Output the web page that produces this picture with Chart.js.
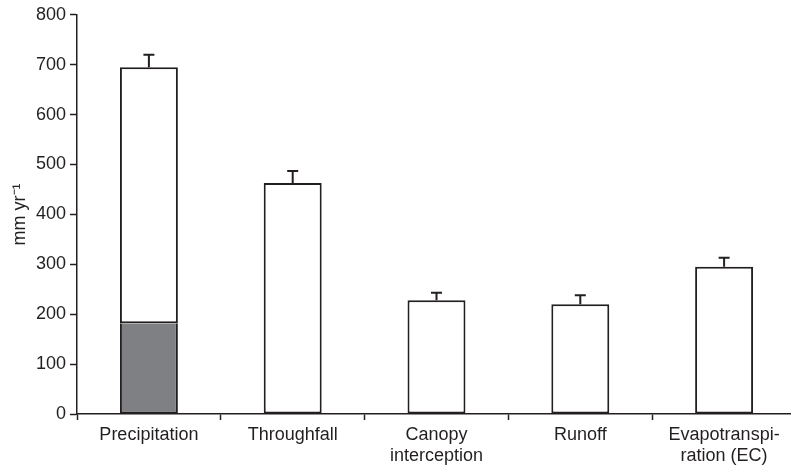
<!DOCTYPE html>
<html>
<head>
<meta charset="utf-8">
<script src="https://cdn.jsdelivr.net/npm/chart.js@4.4.1/dist/chart.umd.min.js"></script>
<style>
  html, body { margin: 0; padding: 0; background: #fff; overflow: hidden; }
  #wrap { position: relative; width: 800px; height: 468px; }
</style>
</head>
<body>
<div id="wrap"><canvas id="chart"></canvas></div>
<script>
// Annual water balance components (mm per year)
const categories = ['Precipitation', 'Throughfall', ['Canopy', 'interception'], 'Runoff', ['Evapotranspi-', 'ration (EC)']];
const totals = [695, 463, 228, 220, 295];
// Shaded lower part of the precipitation bar
const shadedPart = [182, null, null, null, null];
// Upper error (standard deviation)
const errors = [25, 24, 15, 18, 18];
const yTicks = [0, 100, 200, 300, 400, 500, 600, 700, 800];

const remainder = totals.map((t, i) => t - (shadedPart[i] || 0));

const ink = '#231f20';
const fontFamily = "'Liberation Sans', Arial, Helvetica, sans-serif";

const errorBars = {
  id: 'errorBars',
  afterDatasetsDraw(chart) {
    const { ctx, scales: { x, y } } = chart;
    ctx.save();
    ctx.strokeStyle = ink;
    ctx.lineWidth = 2;
    totals.forEach((t, i) => {
      const px = x.getPixelForValue(i);
      const yBase = y.getPixelForValue(t);
      const yTop = y.getPixelForValue(t + errors[i]);
      ctx.beginPath();
      ctx.moveTo(px, yBase);
      ctx.lineTo(px, yTop);
      ctx.moveTo(px - 5.5, yTop);
      ctx.lineTo(px + 5.5, yTop);
      ctx.stroke();
    });
    ctx.restore();
  }
};

new Chart(document.getElementById('chart'), {
  type: 'bar',
  data: {
    labels: categories,
    datasets: [
      {
        data: shadedPart,
        backgroundColor: '#7f8084',
        borderColor: ink,
        borderWidth: { top: 0, left: 2, right: 2, bottom: 2 },
        borderSkipped: false
      },
      {
        data: remainder,
        backgroundColor: '#ffffff',
        borderColor: ink,
        borderWidth: 2,
        borderSkipped: false
      }
    ]
  },
  plugins: [errorBars],
  options: {
    responsive: true,
    maintainAspectRatio: false,
    animation: false,
    layout: { padding: { top: 14, right: 4, left: 0, bottom: 0 } },
    plugins: { legend: { display: false }, tooltip: { enabled: false } },
    datasets: { bar: { categoryPercentage: 1, barPercentage: 0.403 } },
    scales: {
      x: {
        stacked: true,
        offset: true,
        grid: { display: true, offset: true, drawOnChartArea: false, tickLength: 6, color: ink, tickWidth: 1.5 },
        border: { display: true, color: ink, width: 1.5 },
        ticks: { color: ink, font: { family: fontFamily, size: 18 }, padding: 4, maxRotation: 0, autoSkip: false },
        afterFit(s) { s.height = 54; }
      },
      y: {
        stacked: true,
        min: 0,
        max: 800,
        afterBuildTicks(s) { s.ticks = yTicks.map(v => ({ value: v })); },
        grid: { display: true, drawOnChartArea: false, tickLength: 7, color: ink, tickWidth: 1.5 },
        border: { display: true, color: ink, width: 1.5 },
        ticks: { color: ink, font: { family: fontFamily, size: 18 }, padding: 4 },
        title: { display: true, text: 'mm yr⁻¹', color: ink, font: { family: fontFamily, size: 18 }, padding: { top: 9, bottom: 0 } },
        afterFit(s) { s.width = 77; }
      }
    }
  }
});
</script>
</body>
</html>
